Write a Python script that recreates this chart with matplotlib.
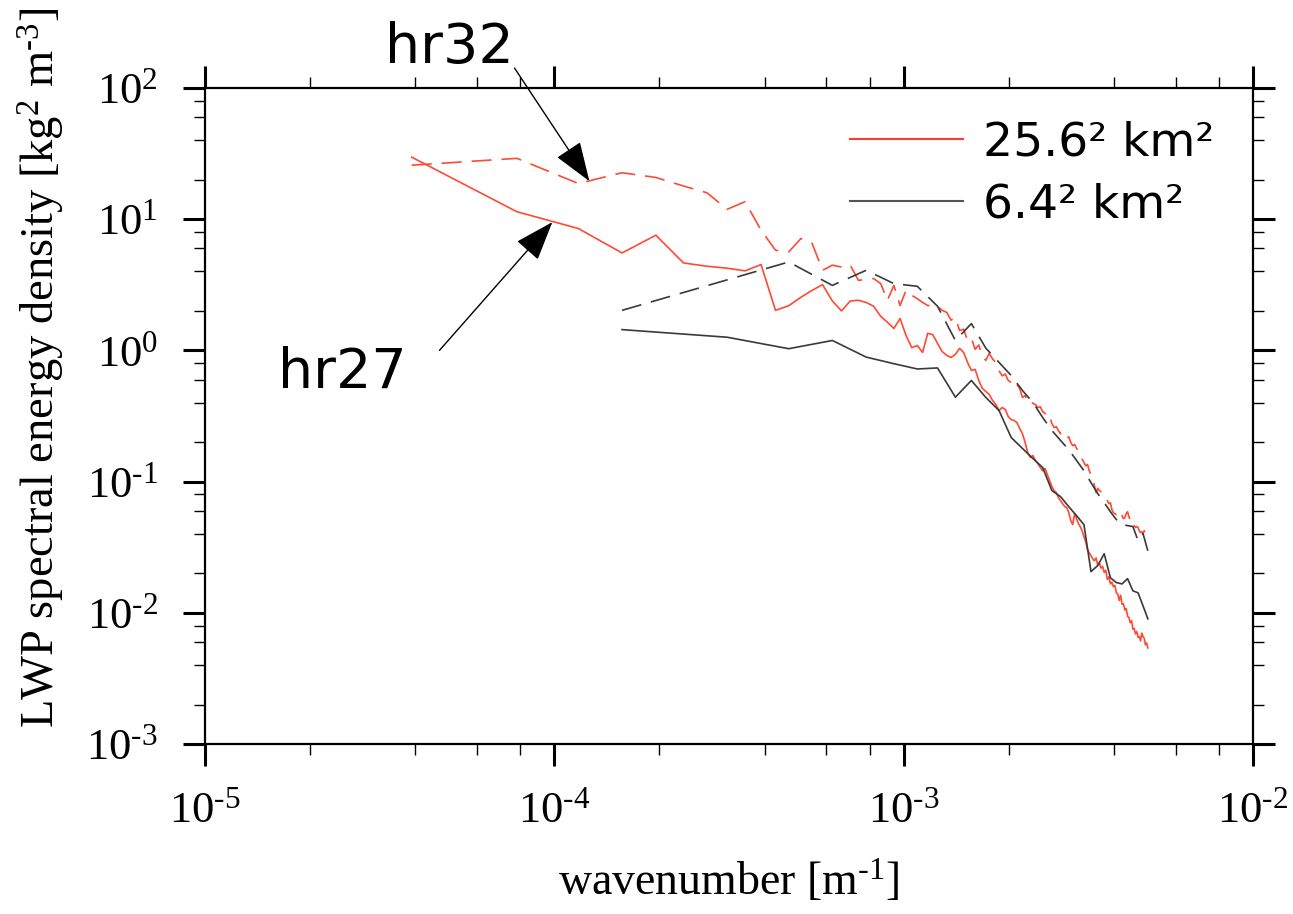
import numpy as np
import matplotlib
matplotlib.use("Agg")
import matplotlib.pyplot as plt
from matplotlib.lines import Line2D
from matplotlib.ticker import LogLocator, NullFormatter, FuncFormatter

# ----------------------------------------------------
# Data: LWP spectra for two domain sizes, hours 27 and 32
# ----------------------------------------------------
# wavenumber bins k = n / L  (L = 25.6 km and 6.4 km, dx = 100 m)
k_256 = np.arange(1, 129) / 25600.0
k_64 = np.arange(1, 33) / 6400.0

# 25.6^2 km^2 domain, hr27 (solid red)
red_hr27 = [
    29.7, 11.4, 8.49, 5.53, 7.55, 4.64, 4.38, 4.23, 4.04, 4.51,
    2.02, 2.19, 2.54, 2.87, 3.17, 2.38, 2.00, 2.38, 2.41, 2.32,
    2.17, 1.82, 1.64, 1.47, 1.75, 1.30, 1.05, 1.09, 0.965, 1.35,
    1.32, 1.13, 0.98, 0.916, 0.884, 0.932, 1.036, 0.965, 0.810, 0.704,
    0.716, 0.590, 0.513, 0.486, 0.462, 0.415, 0.387, 0.348, 0.367, 0.355,
    0.313, 0.297, 0.292, 0.282, 0.254, 0.232, 0.199, 0.166, 0.153, 0.158,
    0.145, 0.137, 0.128, 0.121, 0.126, 0.113, 0.102, 0.0916, 0.0854, 0.0824,
    0.0755, 0.0716, 0.0679, 0.0644, 0.0633, 0.0580, 0.0504, 0.0470, 0.0570, 0.0522,
    0.0478, 0.0453, 0.0422, 0.0380, 0.0348, 0.0303, 0.0287, 0.0272, 0.0258, 0.0249,
    0.0262, 0.0231, 0.0240, 0.0219, 0.0226, 0.0203, 0.0211, 0.0180, 0.0188, 0.0166,
    0.0171, 0.0158, 0.0162, 0.0142, 0.0139, 0.0124, 0.0136, 0.0116, 0.0117, 0.0105,
    0.0108, 0.0094, 0.0092, 0.0084, 0.0087, 0.0075, 0.0076, 0.0069, 0.0072, 0.0065,
    0.0066, 0.0061, 0.0070, 0.0066, 0.0064, 0.0057, 0.0059, 0.0054,
]

# 25.6^2 km^2 domain, hr32 (dashed red)
red_hr32 = [
    25.8, 29.1, 18.7, 22.6, 20.8, 17.9, 15.9, 11.9, 13.6, 8.24,
    5.80, 5.63, 7.12, 6.53, 4.08, 4.46, 4.32, 4.46, 3.42, 3.48,
    3.53, 3.23, 2.41, 3.13, 2.20, 2.87, 2.63, 2.48, 2.32, 2.20,
    2.17, 2.17, 2.02, 1.95, 1.70, 1.78, 1.42, 1.45, 1.19, 1.24,
    1.02, 1.10, 0.90, 0.84, 0.95, 0.86, 0.81, 0.70, 0.64, 0.66,
    0.590, 0.570, 0.600, 0.550, 0.513, 0.438, 0.452, 0.408, 0.420, 0.394,
    0.387, 0.367, 0.372, 0.342, 0.331, 0.308, 0.316, 0.277, 0.258, 0.262,
    0.245, 0.232, 0.236, 0.217, 0.213, 0.220, 0.199, 0.188, 0.192, 0.179,
    0.172, 0.155, 0.148, 0.140, 0.132, 0.135, 0.121, 0.113, 0.107, 0.0932,
    0.0824, 0.0890, 0.0854, 0.0839, 0.0824, 0.0796, 0.0769, 0.0716, 0.0679, 0.0690,
    0.0611, 0.0580, 0.0570, 0.0560, 0.0590, 0.0560, 0.0541, 0.0551, 0.0522, 0.0531,
    0.0570, 0.0590, 0.0541, 0.0504, 0.0478, 0.0490, 0.0462, 0.0447, 0.0454, 0.0447,
    0.0422, 0.0408, 0.0415, 0.0401, 0.0422, 0.0394, 0.0380, 0.0361,
]

# 6.4^2 km^2 domain, hr27 (solid black)
black_hr27 = [
    1.44, 1.26, 1.03, 1.19, 0.889, 0.792, 0.722, 0.735, 0.440, 0.590,
    0.438, 0.348, 0.217, 0.179, 0.150, 0.128, 0.0854, 0.0768, 0.0644, 0.0550,
    0.0470, 0.0206, 0.0229, 0.0282, 0.0185, 0.0170, 0.0166, 0.0182, 0.0147, 0.0142,
    0.0113, 0.0090,
]

# 6.4^2 km^2 domain, hr32 (dashed black)
black_hr32 = [
    2.02, 3.45, 4.72, 3.13, 4.08, 3.23, 3.08, 2.17, 1.19, 1.60,
    1.04, 0.810, 0.644, 0.495, 0.401, 0.308, 0.245, 0.206, 0.175, 0.145,
    0.121, 0.0982, 0.0810, 0.0691, 0.0590, 0.0513, 0.0470, 0.0462, 0.0454, 0.0355,
    0.0401, 0.0297,
]

legend_labels = ["25.6\u00b2 km\u00b2", "6.4\u00b2 km\u00b2"]

RED = "#ff4a33"
BLACK = "#3a3a3a"

# ----------------------------------------------------
# Fonts
# ----------------------------------------------------
plt.rcParams["font.family"] = "Liberation Serif"
plt.rcParams["mathtext.fontset"] = "custom"
plt.rcParams["mathtext.rm"] = "Liberation Serif"
plt.rcParams["mathtext.it"] = "Liberation Serif:italic"
plt.rcParams["mathtext.bf"] = "Liberation Serif:bold"


def pow10_label(v, pos):
    e = int(round(np.log10(v)))
    if e < 0:
        return r"10$^{\text{-}%d}$" % (-e)
    return r"10$^{%d}$" % e


# ----------------------------------------------------
# Figure
# ----------------------------------------------------
fig = plt.figure(figsize=(12.93, 9.14), dpi=100)
ax = fig.add_axes([205 / 1293, 1 - 744 / 914, 1048 / 1293, 656 / 914])

ax.plot(k_256, red_hr27, color=RED, lw=1.2)
ax.plot(k_256, red_hr32, color=RED, lw=1.2, dashes=(12, 6))
ax.plot(k_64, black_hr27, color=BLACK, lw=1.2)
ax.plot(k_64, black_hr32, color=BLACK, lw=1.2, dashes=(12, 6))

ax.set_xscale("log")
ax.set_yscale("log")
ax.set_xlim(1e-5, 1e-2)
ax.set_ylim(1e-3, 1e2)

for axis in (ax.xaxis, ax.yaxis):
    axis.set_major_locator(LogLocator(base=10, numticks=12))
    axis.set_major_formatter(FuncFormatter(pow10_label))
    axis.set_minor_locator(LogLocator(base=10, subs=(2, 4, 6, 8), numticks=12))
    axis.set_minor_formatter(NullFormatter())

ax.tick_params(which="both", direction="out", top=True, right=True,
               labelsize=32)
ax.tick_params(which="major", length=16, width=2.2, pad=18)
ax.tick_params(which="minor", length=8, width=1.0)
for s in ax.spines.values():
    s.set_linewidth(1.6)

ax.set_xlabel("wavenumber [m$^{\\text{-}1}$]", fontsize=33, labelpad=20)
ax.set_ylabel("LWP spectral energy density [kg$^{2}$ m$^{\\text{-}3}$]",
              fontsize=33.5)
ax.yaxis.set_label_coords(-0.132, 0.573)

# ----------------------------------------------------
# Legend (solid lines for the two domain sizes)
# ----------------------------------------------------
handles = [Line2D([], [], color="#ff3b30", lw=1.5),
           Line2D([], [], color="#555555", lw=1.5)]
ax.legend(handles, legend_labels, loc="upper left",
          bbox_to_anchor=(850 / 1293, 1 - 121 / 914),
          bbox_transform=fig.transFigure, frameon=False,
          prop={"family": "DejaVu Sans", "size": 34},
          handlelength=2.39, handletextpad=0.42, borderpad=0,
          borderaxespad=0, labelspacing=0.35)

# ----------------------------------------------------
# Annotations hr32 / hr27
# ----------------------------------------------------
arrow_style = dict(arrowstyle="-|>,head_length=1.25,head_width=0.45",
                   color="black", lw=1.0, mutation_scale=20,
                   shrinkA=0, shrinkB=0)
ax.annotate("", xy=(1.26e-4, 19.5), xytext=(7.69e-5, 142),
            arrowprops=arrow_style, annotation_clip=False)
ax.annotate("", xy=(9.87e-5, 9.5), xytext=(4.69e-5, 1.0),
            arrowprops=arrow_style, annotation_clip=False)

fig.text(385 / 1293, 1 - 63 / 914, "hr32", fontsize=40,
         family="DejaVu Sans", va="baseline")
fig.text(278 / 1293, 1 - 388 / 914, "hr27", fontsize=40,
         family="DejaVu Sans", va="baseline")

fig.savefig("out.png", dpi=100)
